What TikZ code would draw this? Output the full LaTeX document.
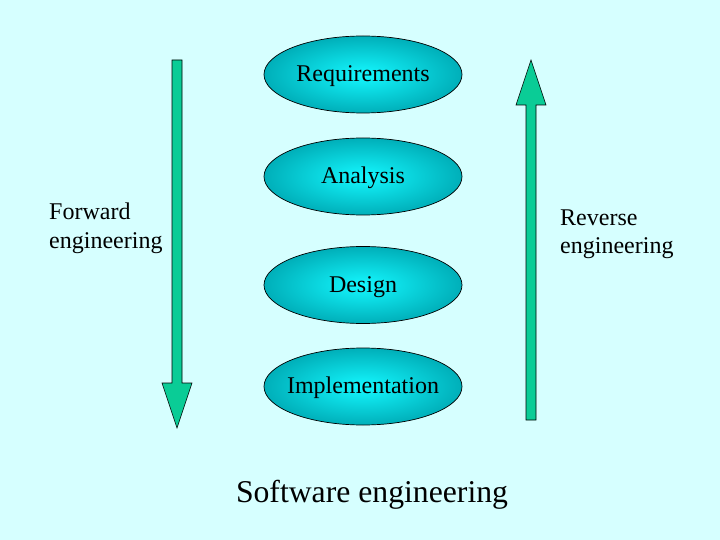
\documentclass[tikz,border=0pt]{standalone}
\usepackage{fontspec}
\setmainfont{Liberation Serif}
\usetikzlibrary{shapes.geometric,calc}
\definecolor{bgcol}{RGB}{214,255,255}
\definecolor{arrowfill}{RGB}{10,204,150}
\definecolor{elinner}{RGB}{20,248,255}
\definecolor{elouter}{RGB}{0,175,185}
\tikzset{
  phase/.style={ellipse, draw=black, line width=0.7pt, shading=radial,
    inner color=elinner, outer color=elouter, minimum width=198pt,
    minimum height=77pt, inner xsep=-30pt, inner ysep=0pt, text height=14pt, text depth=0pt,
    font=\fontsize{24}{28}\selectfont},
  sidelabel/.style={align=left, inner sep=0pt, anchor=north west,
    font=\fontsize{24}{28.5}\selectfont},
  blockarrow/.style={draw=black, line width=0.6pt, fill=arrowfill, line join=miter}
}
\begin{document}
\begin{tikzpicture}[x=1pt,y=-1pt]
\fill[bgcol] (0,0) rectangle (720,540);
\useasboundingbox (0,0) rectangle (720,540);

\node[phase] (req) at (363,74.5) {Requirements};
\node[phase] (ana) at (363,176.5) {Analysis};
\node[phase] (des) at (363,285) {Design};
\node[phase] (imp) at (363,386.5) {Implementation};

% forward arrow (down)
\coordinate (fwdtop) at (177,60);
\coordinate (fwdtip) at (177,428);
\draw[blockarrow] ($(fwdtop)+(-5,0)$) -- ($(fwdtop)+(5,0)$) -- ($(fwdtip)+(5,-45)$)
  -- ($(fwdtip)+(15,-45)$) -- (fwdtip) -- ($(fwdtip)+(-15,-45)$)
  -- ($(fwdtip)+(-5,-45)$) -- cycle;

% reverse arrow (up)
\coordinate (revbot) at (531,420);
\coordinate (revtip) at (531,60);
\draw[blockarrow] ($(revbot)+(-5,0)$) -- ($(revbot)+(5,0)$) -- ($(revtip)+(5,45)$)
  -- ($(revtip)+(15,45)$) -- (revtip) -- ($(revtip)+(-15,45)$)
  -- ($(revtip)+(-5,45)$) -- cycle;

\node[sidelabel] (fwd) at (49,203) {Forward\\engineering};
\node[sidelabel] (rev) at (560,209.5) {Reverse\\engineering};

\node[anchor=base, inner sep=0pt, font=\fontsize{31.7}{36}\selectfont] (title) at (372,502) {Software engineering};
\end{tikzpicture}
\end{document}
